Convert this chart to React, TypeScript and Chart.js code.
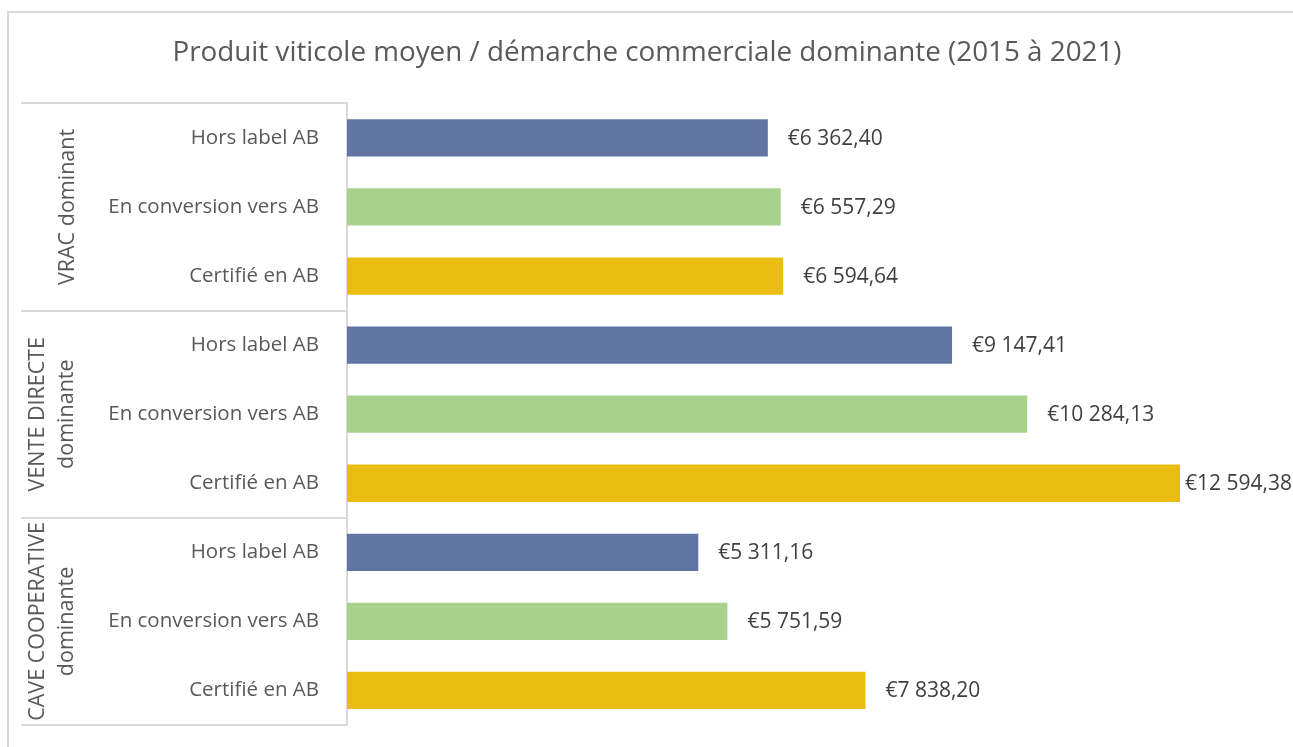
import React, { useEffect, useRef } from 'react';
import { Chart, registerables } from 'chart.js';

Chart.register(...registerables);

const titleText = 'Produit viticole moyen / démarche commerciale dominante (2015 à 2021)';
const groupLines: string[][] = [
  ['VRAC dominant'],
  ['VENTE DIRECTE', 'dominante'],
  ['CAVE COOPERATIVE', 'dominante'],
];
const subcategories = ['Hors label AB', 'En conversion vers AB', 'Certifié en AB'];
const vracValues = [6362.4, 6557.29, 6594.64];
const venteDirecteValues = [9147.41, 10284.13, 12594.38];
const caveCoopValues = [5311.16, 5751.59, 7838.2];
const seriesColors = ['#6175A3', '#A9D18E', '#EABD12'];
const xMin = 0;
const xMax = 14000;

const FONT = "'Open Sans', 'DejaVu Sans', sans-serif";
const TEXT_GRAY = '#595959';
const LINE_GRAY = '#D9D9D9';

function formatEuro(v: number): string {
  const [intPart, dec] = v.toFixed(2).split('.');
  const withSpaces = intPart.replace(/\B(?=(\d{3})+(?!\d))/g, ' ');
  return '€' + withSpaces + ',' + dec;
}

const allGroups = [vracValues, venteDirecteValues, caveCoopValues];
const labels: string[] = [];
const values: number[] = [];
const colors: string[] = [];
allGroups.forEach((g) => {
  g.forEach((v, i) => {
    labels.push(subcategories[i]);
    values.push(v);
    colors.push(seriesColors[i]);
  });
});

const PAD_LEFT = 21;
const AXIS_WIDTH = 326;

const decorPlugin = {
  id: 'decor',
  beforeDraw(chart: any) {
    const ctx = chart.ctx;
    ctx.save();
    ctx.fillStyle = '#FFFFFF';
    ctx.fillRect(0, 0, chart.width, chart.height);
    ctx.strokeStyle = LINE_GRAY;
    ctx.lineWidth = 2;
    ctx.beginPath();
    ctx.moveTo(8, chart.height + 5);
    ctx.lineTo(8, 12);
    ctx.lineTo(chart.width + 5, 12);
    ctx.stroke();
    ctx.restore();
  },
  afterDraw(chart: any) {
    const ctx = chart.ctx;
    const y = chart.scales.y;
    const area = chart.chartArea;
    ctx.save();
    const n = subcategories.length;
    const bounds: number[] = [area.top];
    for (let gi = 1; gi < groupLines.length; gi++) {
      const a = y.getPixelForValue(gi * n - 1);
      const b = y.getPixelForValue(gi * n);
      bounds.push((a + b) / 2);
    }
    bounds.push(area.bottom);
    ctx.strokeStyle = LINE_GRAY;
    ctx.lineWidth = 2;
    bounds.forEach((by) => {
      const yy = Math.round(by);
      ctx.beginPath();
      ctx.moveTo(PAD_LEFT, yy);
      ctx.lineTo(area.left, yy);
      ctx.stroke();
    });
    ctx.fillStyle = TEXT_GRAY;
    ctx.font = `21.5px ${FONT}`;
    ctx.textAlign = 'center';
    ctx.textBaseline = 'middle';
    groupLines.forEach((lines, gi) => {
      const cy = (bounds[gi] + bounds[gi + 1]) / 2;
      const xs = lines.length === 1 ? [PAD_LEFT + 47] : [PAD_LEFT + 17, PAD_LEFT + 46];
      lines.forEach((line, li) => {
        ctx.save();
        ctx.translate(xs[li], cy);
        ctx.rotate(-Math.PI / 2);
        ctx.fillText(line, 0, 0);
        ctx.restore();
      });
    });
    const meta = chart.getDatasetMeta(0);
    ctx.fillStyle = '#404040';
    ctx.font = `21px ${FONT}`;
    ctx.textAlign = 'left';
    ctx.textBaseline = 'middle';
    meta.data.forEach((bar: any, i: number) => {
      const txt = formatEuro(values[i]);
      const w = ctx.measureText(txt).width;
      const x = Math.min(bar.x + 20, chart.width - w - 1);
      ctx.fillText(txt, x, bar.y + 1);
    });
    ctx.restore();
  },
};

export default function App() {
  const canvasRef = useRef<HTMLCanvasElement | null>(null);

  useEffect(() => {
    document.body.style.margin = '0';
    const canvas = canvasRef.current;
    if (!canvas) return;
    const chart = new Chart(canvas, {
      type: 'bar',
      data: {
        labels,
        datasets: [
          {
            data: values,
            backgroundColor: colors,
            borderWidth: 0,
            categoryPercentage: 1,
            barPercentage: 0.54,
          },
        ],
      },
      options: {
        indexAxis: 'y',
        responsive: false,
        animation: false,
        devicePixelRatio: 1,
        layout: { padding: { left: PAD_LEFT, right: 20, top: 0, bottom: 22 } },
        plugins: {
          legend: { display: false },
          tooltip: { enabled: false },
          title: {
            display: true,
            text: titleText,
            color: TEXT_GRAY,
            font: { family: FONT, size: 27.8, weight: 'normal', lineHeight: 1.2 },
            padding: { top: 36, bottom: 34 },
          },
        },
        scales: {
          x: { display: false, min: xMin, max: xMax },
          y: {
            grid: {
              display: true,
              drawOnChartArea: false,
              drawTicks: true,
              tickLength: 28,
              color: 'rgba(0,0,0,0)',
            },
            border: { display: true, color: LINE_GRAY, width: 2 },
            ticks: {
              color: TEXT_GRAY,
              font: { family: FONT, size: 20.5 },
              padding: 0,
              autoSkip: false,
            },
            afterFit(scale: any) {
              scale.width = AXIS_WIDTH;
            },
          },
        },
      },
      plugins: [decorPlugin],
    });
    return () => chart.destroy();
  }, []);

  return (
    <div style={{ width: 1293, height: 747 }}>
      <canvas ref={canvasRef} width={1293} height={747} style={{ display: 'block' }} />
    </div>
  );
}
